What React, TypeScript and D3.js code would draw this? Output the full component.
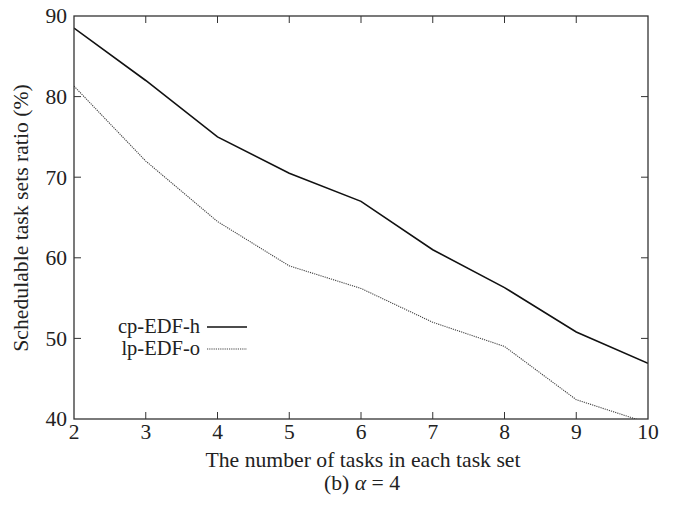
import React, { useEffect, useRef } from 'react'
import * as d3 from 'd3'

const tasks = [2, 3, 4, 5, 6, 7, 8, 9, 10]
const cpEdfH = [88.5, 82, 75, 70.5, 67, 61, 56.3, 50.8, 46.9]
const lpEdfO = [81.3, 72, 64.5, 59, 56.2, 52, 49, 42.4, 39.5]
const yTicks = [40, 50, 60, 70, 80, 90]

const App = () => {
  const ref = useRef(null)

  useEffect(() => {
    const svg = d3.select(ref.current)
    svg.selectAll('*').remove()
    const font = 'Liberation Serif, serif'
    const left = 74
    const right = 648
    const top = 16
    const bottom = 419

    const x = d3.scaleLinear().domain([2, 10]).range([left, right])
    const y = d3.scaleLinear().domain([40, 90]).range([bottom, top])

    svg
      .append('defs')
      .append('clipPath')
      .attr('id', 'plotclip')
      .append('rect')
      .attr('x', left)
      .attr('y', top)
      .attr('width', right - left)
      .attr('height', bottom - top)

    const tickLen = 7
    const g = svg.append('g').attr('stroke', '#333').attr('stroke-width', 1)
    tasks.forEach((t) => {
      if (t === 2 || t === 10) return
      g.append('line').attr('x1', x(t)).attr('x2', x(t)).attr('y1', bottom).attr('y2', bottom - tickLen)
      g.append('line').attr('x1', x(t)).attr('x2', x(t)).attr('y1', top).attr('y2', top + tickLen)
    })
    yTicks.forEach((v) => {
      if (v === 40 || v === 90) return
      g.append('line').attr('x1', left).attr('x2', left + tickLen).attr('y1', y(v)).attr('y2', y(v))
      g.append('line').attr('x1', right).attr('x2', right - tickLen).attr('y1', y(v)).attr('y2', y(v))
    })

    svg
      .append('g')
      .selectAll('text')
      .data(tasks)
      .enter()
      .append('text')
      .attr('x', (d) => x(d))
      .attr('y', bottom + 20)
      .attr('text-anchor', 'middle')
      .attr('font-family', font)
      .attr('font-size', 21.5)
      .attr('fill', '#222')
      .text((d) => d)

    svg
      .append('g')
      .selectAll('text')
      .data(yTicks)
      .enter()
      .append('text')
      .attr('x', left - 7)
      .attr('y', (d) => y(d) + 7.3)
      .attr('text-anchor', 'end')
      .attr('font-family', font)
      .attr('font-size', 21.5)
      .attr('fill', '#222')
      .text((d) => d)

    const line = d3
      .line<number>()
      .x((d, i) => x(tasks[i]))
      .y((d) => y(d))

    const plot = svg.append('g').attr('clip-path', 'url(#plotclip)')
    plot
      .append('path')
      .datum(cpEdfH)
      .attr('d', line)
      .attr('fill', 'none')
      .attr('stroke', '#111')
      .attr('stroke-width', 1.6)
    plot
      .append('path')
      .datum(lpEdfO)
      .attr('d', line)
      .attr('fill', 'none')
      .attr('stroke', '#444')
      .attr('stroke-width', 1.1)
      .attr('stroke-dasharray', '1.2,1')

    svg
      .append('rect')
      .attr('x', left)
      .attr('y', top)
      .attr('width', right - left)
      .attr('height', bottom - top)
      .attr('fill', 'none')
      .attr('stroke', '#333')
      .attr('stroke-width', 1.3)

    // legend
    const legend = [
      { name: 'cp-EDF-h', dash: null, w: 1.6, c: '#111' },
      { name: 'lp-EDF-o', dash: '1.2,1', w: 1.1, c: '#444' },
    ]
    legend.forEach((l, i) => {
      const ly = 327 + i * 22
      svg
        .append('text')
        .attr('x', 200)
        .attr('y', ly + 6)
        .attr('text-anchor', 'end')
        .attr('font-family', font)
        .attr('font-size', 20.5)
        .attr('fill', '#222')
        .text(l.name)
      svg
        .append('line')
        .attr('x1', 207)
        .attr('x2', 247)
        .attr('y1', ly)
        .attr('y2', ly)
        .attr('stroke', l.c)
        .attr('stroke-width', l.w)
        .attr('stroke-dasharray', l.dash)
    })

    svg
      .append('text')
      .attr('x', 363)
      .attr('y', 467)
      .attr('text-anchor', 'middle')
      .attr('font-family', font)
      .attr('font-size', 21.7)
      .attr('fill', '#222')
      .text('The number of tasks in each task set')

    svg
      .append('text')
      .attr('transform', `translate(28,218) rotate(-90)`)
      .attr('text-anchor', 'middle')
      .attr('font-family', font)
      .attr('font-size', 21.7)
      .attr('fill', '#222')
      .text('Schedulable task sets ratio (%)')

    const cap = svg
      .append('text')
      .attr('x', 362)
      .attr('y', 490)
      .attr('text-anchor', 'middle')
      .attr('font-family', font)
      .attr('font-size', 21.7)
      .attr('fill', '#222')
    cap.append('tspan').text('(b) ')
    cap.append('tspan').attr('font-style', 'italic').text('α')
    cap.append('tspan').text(' = 4')
  }, [])

  return (
    <svg
      ref={ref}
      width={678}
      height={507}
      style={{ position: 'absolute', left: 0, top: 0, background: '#fff' }}
    />
  )
}

export default App
